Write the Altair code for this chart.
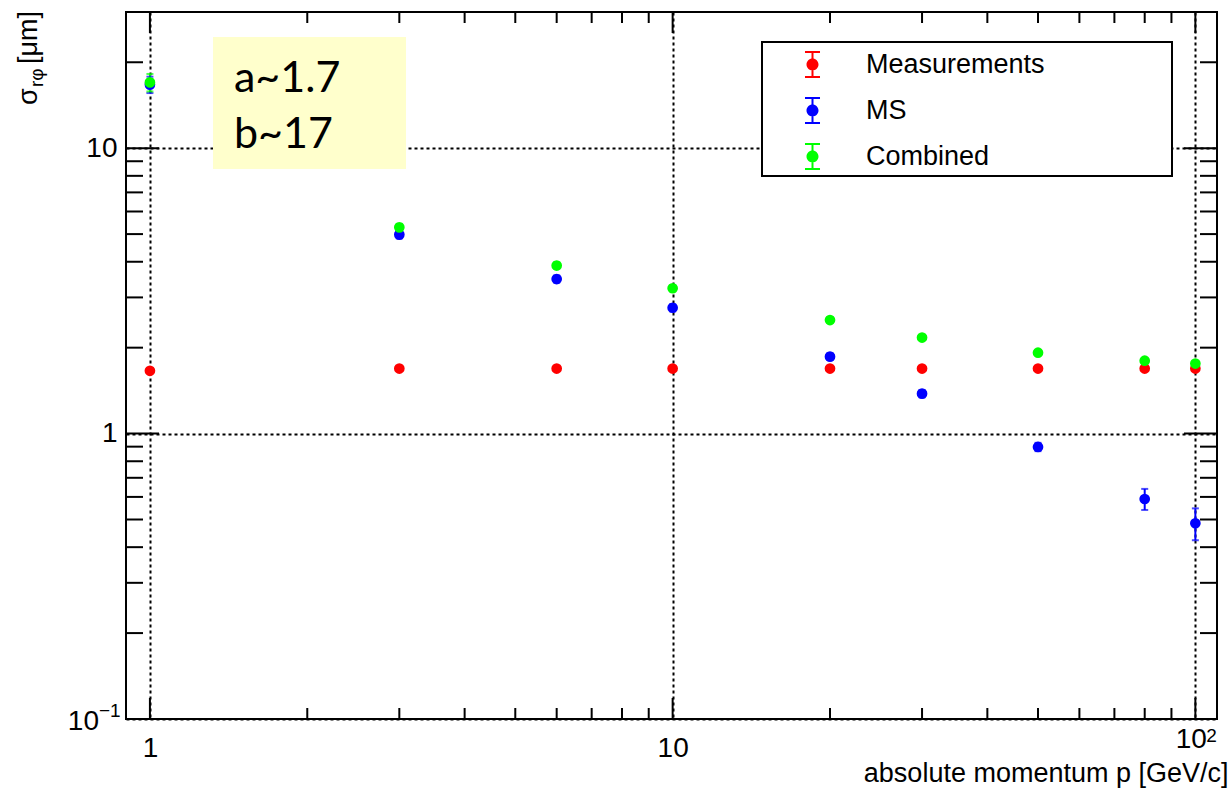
import altair as alt
import pandas as pd

# ---- data -------------------------------------------------------------
momentum = [1, 3, 6, 10, 20, 30, 50, 80, 100]

series_names = ["Measurements", "MS", "Combined"]
series_colors = ["#ff0000", "#0000ff", "#00ff00"]

meas = [1.66, 1.69, 1.69, 1.69, 1.69, 1.69, 1.69, 1.69, 1.69]
meas_err = [0.03, 0.03, 0.03, 0.03, 0.03, 0.03, 0.03, 0.03, 0.03]
ms = [16.7, 4.98, 3.48, 2.76, 1.86, 1.38, 0.898, 0.59, 0.485]
ms_err = [1.1, 0.15, 0.10, 0.08, 0.05, 0.04, 0.03, 0.05, 0.062]
comb = [17.0, 5.28, 3.88, 3.23, 2.50, 2.17, 1.92, 1.80, 1.76]
comb_err = [1.2, 0.15, 0.10, 0.08, 0.05, 0.04, 0.03, 0.03, 0.03]

x_major = [1, 10, 100]
x_minor = [2, 3, 4, 5, 6, 7, 8, 9, 20, 30, 40, 50, 60, 70, 80, 90]
y_major = [0.1, 1, 10]
y_minor = [0.2, 0.3, 0.4, 0.5, 0.6, 0.7, 0.8, 0.9, 2, 3, 4, 5, 6, 7, 8, 9, 20]

# power-of-ten labels written as mantissa + exponent
x_pow_value, x_pow_base, x_pow_exp = 100, "10", "2"
y_pow_value, y_pow_base, y_pow_exp = 0.1, "10", "−1"

annotation_lines = ["a~1.7", "b~17"]
x_title = "absolute momentum p [GeV/c]"
y_title_main, y_title_sub, y_title_unit = "σ", "rφ", "[μm]"

# ---- table ------------------------------------------------------------
rows = []
for name, vals, errs in zip(series_names, [meas, ms, comb], [meas_err, ms_err, comb_err]):
    for p, v, e in zip(momentum, vals, errs):
        rows.append({"series": name, "p": p, "val": v, "lo": v - e, "hi": v + e})
df = pd.DataFrame(rows)

W, H = 1091, 707
FONT = "Liberation Sans"
LABEL = 28

xscale = alt.Scale(type="log", domain=[0.9, 110], nice=False)
yscale = alt.Scale(type="log", domain=[0.1, 30], nice=False)
cscale = alt.Scale(domain=series_names, range=series_colors)

# legend glyph: filled marker with an error bar and caps
ERR_GLYPH = (
    "M-0.074,-1L0.074,-1L0.074,1L-0.074,1Z "
    "M-0.556,-1L0.556,-1L0.556,-0.852L-0.556,-0.852Z "
    "M-0.556,0.852L0.556,0.852L0.556,1L-0.556,1Z "
    "M0.444,0A0.444,0.444,0,1,1,-0.444,0A0.444,0.444,0,1,1,0.444,0Z"
)

x_axis = alt.Axis(
    values=x_major, grid=True, gridDash=[3, 3], gridColor="black", gridWidth=2,
    gridOpacity=1, ticks=False, domain=False,
    labelExpr=f"datum.value == {x_pow_value} ? '' : format(datum.value, 'd')",
    labelFontSize=LABEL, labelPadding=15, labelFlush=False, labelOverlap=False,
    title=x_title, titleX=W + 11, titleY=62, titleAlign="right",
    titleBaseline="alphabetic", titleFontSize=27, titleFontWeight="normal",
)
y_axis = alt.Axis(
    values=y_major, grid=True, gridDash=[3, 3], gridColor="black", gridWidth=2,
    gridOpacity=1, ticks=False, domain=False,
    labelExpr=f"datum.value == {y_pow_value} ? '' : format(datum.value, 'd')",
    labelFontSize=LABEL, labelPadding=9, labelFlush=False, labelOverlap=False,
    title=None,
)
legend = alt.Legend(
    orient="none", legendX=673, legendY=39, title=None,
    symbolType=ERR_GLYPH, symbolSize=729, symbolStrokeWidth=0, symbolOpacity=1,
    labelFontSize=27, labelFont=FONT, labelColor="black", labelOffset=40,
    rowPadding=18, padding=0, labelLimit=400,
)

X = lambda f: alt.X(f, scale=xscale, axis=x_axis)
Y = lambda f: alt.Y(f, scale=yscale, axis=y_axis)
C = alt.Color("series:N", scale=cscale, legend=legend)

# ---- frame ticks (drawn inside the frame on all four sides) -----------
def x_ticks(vals, length, top):
    ends = (alt.value(0), alt.value(length)) if top else (alt.value(H), alt.value(H - length))
    return alt.Chart(pd.DataFrame({"v": vals})).mark_rule(color="black", strokeWidth=2).encode(
        x=X("v:Q"), y=ends[0], y2=ends[1])


def y_ticks(vals, length, right):
    ends = (alt.value(W - length), alt.value(W)) if right else (alt.value(0), alt.value(length))
    return alt.Chart(pd.DataFrame({"v": vals})).mark_rule(color="black", strokeWidth=2).encode(
        y=Y("v:Q"), x=ends[0], x2=ends[1])


ticks = [
    x_ticks(x_major, 21, False), x_ticks(x_major, 21, True),
    x_ticks(x_minor, 11, False), x_ticks(x_minor, 11, True),
    y_ticks(y_major, 33, False), y_ticks(y_major, 33, True),
    y_ticks(y_minor, 17, False), y_ticks(y_minor, 17, True),
]

# ---- power-of-ten tick labels -------------------------------------------
xp = alt.Chart(pd.DataFrame({"v": [x_pow_value]}))
x_pow = [
    xp.mark_text(font=FONT, fontSize=LABEL, align="center", baseline="alphabetic",
                 dx=-4, color="black").encode(
        x=X("v:Q"), y=alt.value(H + 29), text=alt.value(x_pow_base)),
    xp.mark_text(font=FONT, fontSize=19, align="left", baseline="alphabetic",
                 dx=11, color="black").encode(
        x=X("v:Q"), y=alt.value(H + 23), text=alt.value(x_pow_exp)),
]
yp = alt.Chart(pd.DataFrame({"v": [y_pow_value]}))
y_pow = [
    yp.mark_text(font=FONT, fontSize=LABEL, align="right", baseline="middle",
                 dy=3, color="black").encode(
        y=Y("v:Q"), x=alt.value(-27), text=alt.value(y_pow_base)),
    yp.mark_text(font=FONT, fontSize=19, align="left", baseline="middle",
                 dy=-8, color="black").encode(
        y=Y("v:Q"), x=alt.value(-27), text=alt.value(y_pow_exp)),
]

# ---- y-axis title with subscript ------------------------------------------
one = pd.DataFrame({"k": [0]})
def vtext(s, size, x, y):
    return alt.Chart(one).mark_text(
        font=FONT, fontSize=size, angle=270, align="left", baseline="alphabetic",
        color="black").encode(x=alt.value(x), y=alt.value(y), text=alt.value(s))

y_title = [
    vtext(y_title_main, 27, -89, 93),
    vtext(y_title_sub, 19, -83, 75),
    vtext(y_title_unit, 27, -89, 52),
]

# ---- boxes --------------------------------------------------------------
note_box = alt.Chart(one).mark_rect(fill="#ffffcc").encode(
    x=alt.value(87), x2=alt.value(280), y=alt.value(25), y2=alt.value(157))
note_text = alt.Chart(one).mark_text(
    font="Lato", fontSize=43, align="left", baseline="alphabetic",
    lineHeight=56, color="black").encode(
    x=alt.value(108), y=alt.value(80), text=alt.value(annotation_lines))
legend_box = alt.Chart(one).mark_rect(fill="white", stroke="black", strokeWidth=2).encode(
    x=alt.value(636), x2=alt.value(1046), y=alt.value(30), y2=alt.value(164))

# ---- measurements -------------------------------------------------------
base = alt.Chart(df)
bars = base.mark_rule(strokeWidth=2).encode(x=X("p:Q"), y=Y("lo:Q"), y2="hi:Q", color=C)
caps_hi = base.mark_tick(orient="horizontal", size=7, thickness=2).encode(
    x=X("p:Q"), y=Y("hi:Q"), color=C)
caps_lo = base.mark_tick(orient="horizontal", size=7, thickness=2).encode(
    x=X("p:Q"), y=Y("lo:Q"), color=C)
points = base.mark_circle(size=115, opacity=1).encode(x=X("p:Q"), y=Y("val:Q"), color=C)

chart = alt.layer(
    note_box, legend_box, *ticks, bars, caps_hi, caps_lo, points, note_text,
    *x_pow, *y_pow, *y_title,
).properties(
    width=W, height=H, autosize="none",
    padding={"left": 126, "top": 12, "right": 14, "bottom": 75},
).configure(font=FONT).configure_axis(
    labelFont=FONT, titleFont=FONT, labelColor="black", titleColor="black",
).configure_view(stroke="black", strokeWidth=2)

chart.save("out.html", embed_options={"renderer": "svg", "actions": False})
